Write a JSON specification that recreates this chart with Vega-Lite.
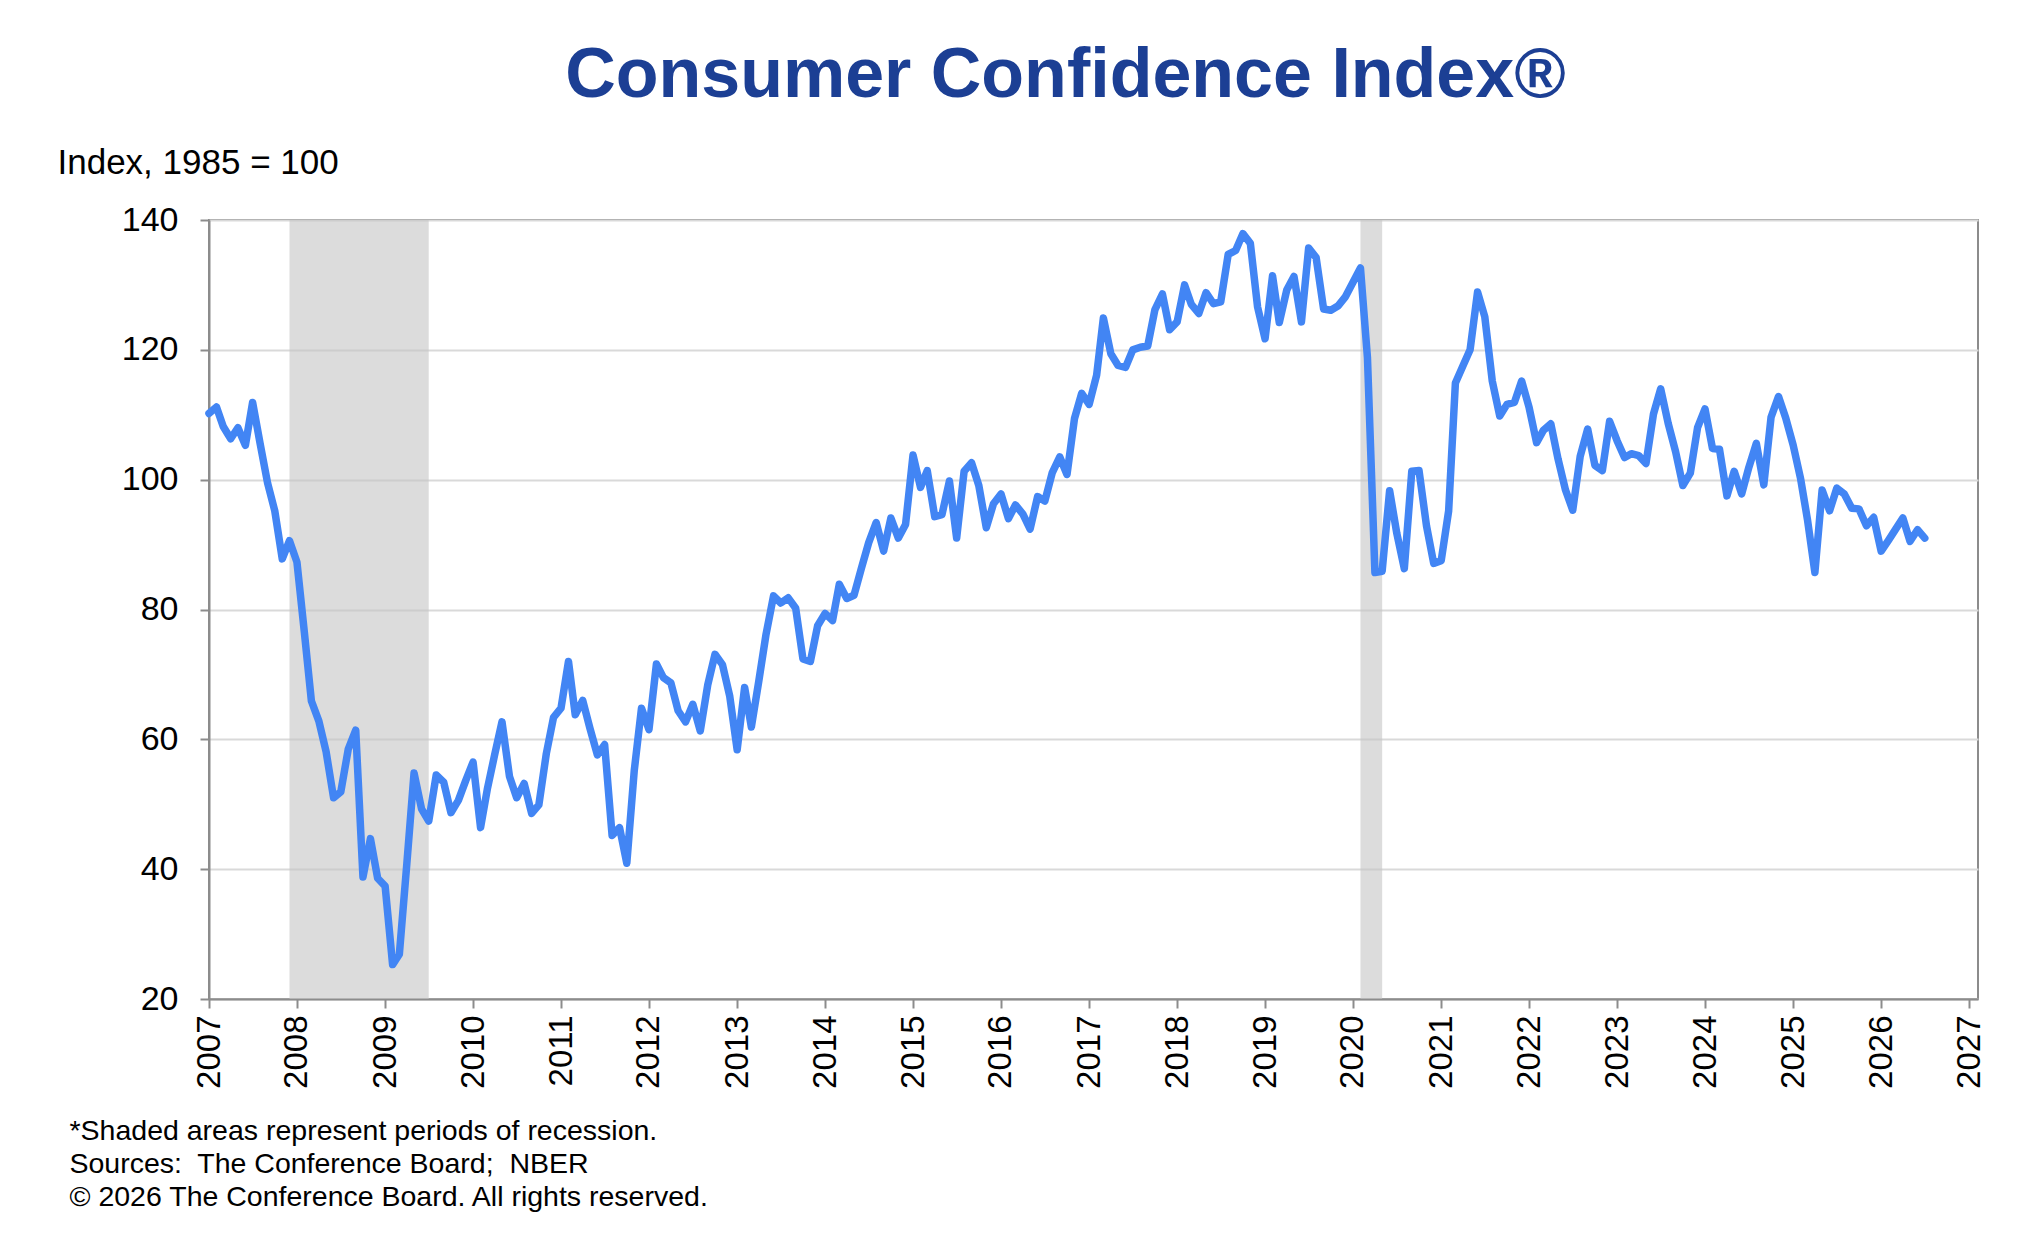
{
  "$schema": "https://vega.github.io/schema/vega-lite/v6.json",
  "width": 1769,
  "height": 779,
  "autosize": {"type": "none"},
  "padding": {"left": 209, "top": 220, "right": 42, "bottom": 253},
  "background": "white",
  "config": {"view": {"stroke": "#8c8c8c", "strokeWidth": 2}, "font": "Liberation Sans"},
  "title": {"text": "Consumer Confidence Index®", "font": "Liberation Sans", "fontSize": 70, "fontWeight": "bold", "color": "#1c3f94", "anchor": "middle", "frame": "group", "offset": 33, "dx": -28},
  "datasets": {
    "recessions": [
      {"date": "2007-12-01", "end": "2009-07-01"},
      {"date": "2020-02-01", "end": "2020-05-01"}
    ],
    "cci": [
      {"date":"2007-01-01","value":110.2},{"date":"2007-02-01","value":111.2},{"date":"2007-03-01","value":108.2},{"date":"2007-04-01","value":106.3},{"date":"2007-05-01","value":108.0},{"date":"2007-06-01","value":105.3},{"date":"2007-07-01","value":111.9},{"date":"2007-08-01","value":105.6},{"date":"2007-09-01","value":99.5},{"date":"2007-10-01","value":95.2},{"date":"2007-11-01","value":87.8},{"date":"2007-12-01","value":90.6},
      {"date":"2008-01-01","value":87.3},{"date":"2008-02-01","value":76.4},{"date":"2008-03-01","value":65.9},{"date":"2008-04-01","value":62.8},{"date":"2008-05-01","value":58.1},{"date":"2008-06-01","value":51.0},{"date":"2008-07-01","value":51.9},{"date":"2008-08-01","value":58.5},{"date":"2008-09-01","value":61.4},{"date":"2008-10-01","value":38.8},{"date":"2008-11-01","value":44.7},{"date":"2008-12-01","value":38.6},
      {"date":"2009-01-01","value":37.4},{"date":"2009-02-01","value":25.3},{"date":"2009-03-01","value":26.9},{"date":"2009-04-01","value":40.8},{"date":"2009-05-01","value":54.8},{"date":"2009-06-01","value":49.3},{"date":"2009-07-01","value":47.4},{"date":"2009-08-01","value":54.5},{"date":"2009-09-01","value":53.4},{"date":"2009-10-01","value":48.7},{"date":"2009-11-01","value":50.6},{"date":"2009-12-01","value":53.6},
      {"date":"2010-01-01","value":56.5},{"date":"2010-02-01","value":46.4},{"date":"2010-03-01","value":52.3},{"date":"2010-04-01","value":57.7},{"date":"2010-05-01","value":62.7},{"date":"2010-06-01","value":54.3},{"date":"2010-07-01","value":51.0},{"date":"2010-08-01","value":53.2},{"date":"2010-09-01","value":48.6},{"date":"2010-10-01","value":49.9},{"date":"2010-11-01","value":57.8},{"date":"2010-12-01","value":63.4},
      {"date":"2011-01-01","value":64.8},{"date":"2011-02-01","value":72.0},{"date":"2011-03-01","value":63.8},{"date":"2011-04-01","value":66.0},{"date":"2011-05-01","value":61.7},{"date":"2011-06-01","value":57.6},{"date":"2011-07-01","value":59.2},{"date":"2011-08-01","value":45.2},{"date":"2011-09-01","value":46.4},{"date":"2011-10-01","value":40.9},{"date":"2011-11-01","value":55.2},{"date":"2011-12-01","value":64.8},
      {"date":"2012-01-01","value":61.5},{"date":"2012-02-01","value":71.6},{"date":"2012-03-01","value":69.5},{"date":"2012-04-01","value":68.7},{"date":"2012-05-01","value":64.4},{"date":"2012-06-01","value":62.7},{"date":"2012-07-01","value":65.4},{"date":"2012-08-01","value":61.3},{"date":"2012-09-01","value":68.4},{"date":"2012-10-01","value":73.1},{"date":"2012-11-01","value":71.5},{"date":"2012-12-01","value":66.7},
      {"date":"2013-01-01","value":58.4},{"date":"2013-02-01","value":68.0},{"date":"2013-03-01","value":61.9},{"date":"2013-04-01","value":69.0},{"date":"2013-05-01","value":76.2},{"date":"2013-06-01","value":82.1},{"date":"2013-07-01","value":81.0},{"date":"2013-08-01","value":81.8},{"date":"2013-09-01","value":80.2},{"date":"2013-10-01","value":72.4},{"date":"2013-11-01","value":72.0},{"date":"2013-12-01","value":77.5},
      {"date":"2014-01-01","value":79.4},{"date":"2014-02-01","value":78.3},{"date":"2014-03-01","value":83.9},{"date":"2014-04-01","value":81.7},{"date":"2014-05-01","value":82.2},{"date":"2014-06-01","value":86.4},{"date":"2014-07-01","value":90.3},{"date":"2014-08-01","value":93.4},{"date":"2014-09-01","value":89.0},{"date":"2014-10-01","value":94.1},{"date":"2014-11-01","value":91.0},{"date":"2014-12-01","value":93.1},
      {"date":"2015-01-01","value":103.8},{"date":"2015-02-01","value":98.8},{"date":"2015-03-01","value":101.4},{"date":"2015-04-01","value":94.3},{"date":"2015-05-01","value":94.6},{"date":"2015-06-01","value":99.8},{"date":"2015-07-01","value":91.0},{"date":"2015-08-01","value":101.3},{"date":"2015-09-01","value":102.6},{"date":"2015-10-01","value":99.1},{"date":"2015-11-01","value":92.6},{"date":"2015-12-01","value":96.3},
      {"date":"2016-01-01","value":97.8},{"date":"2016-02-01","value":94.0},{"date":"2016-03-01","value":96.1},{"date":"2016-04-01","value":94.7},{"date":"2016-05-01","value":92.4},{"date":"2016-06-01","value":97.4},{"date":"2016-07-01","value":96.7},{"date":"2016-08-01","value":101.1},{"date":"2016-09-01","value":103.5},{"date":"2016-10-01","value":100.8},{"date":"2016-11-01","value":109.4},{"date":"2016-12-01","value":113.3},
      {"date":"2017-01-01","value":111.6},{"date":"2017-02-01","value":116.1},{"date":"2017-03-01","value":124.9},{"date":"2017-04-01","value":119.4},{"date":"2017-05-01","value":117.6},{"date":"2017-06-01","value":117.3},{"date":"2017-07-01","value":120.0},{"date":"2017-08-01","value":120.4},{"date":"2017-09-01","value":120.6},{"date":"2017-10-01","value":126.2},{"date":"2017-11-01","value":128.6},{"date":"2017-12-01","value":123.1},
      {"date":"2018-01-01","value":124.3},{"date":"2018-02-01","value":130.0},{"date":"2018-03-01","value":127.0},{"date":"2018-04-01","value":125.6},{"date":"2018-05-01","value":128.8},{"date":"2018-06-01","value":127.1},{"date":"2018-07-01","value":127.4},{"date":"2018-08-01","value":134.7},{"date":"2018-09-01","value":135.3},{"date":"2018-10-01","value":137.9},{"date":"2018-11-01","value":136.4},{"date":"2018-12-01","value":126.6},
      {"date":"2019-01-01","value":121.7},{"date":"2019-02-01","value":131.4},{"date":"2019-03-01","value":124.2},{"date":"2019-04-01","value":129.2},{"date":"2019-05-01","value":131.3},{"date":"2019-06-01","value":124.3},{"date":"2019-07-01","value":135.7},{"date":"2019-08-01","value":134.2},{"date":"2019-09-01","value":126.3},{"date":"2019-10-01","value":126.1},{"date":"2019-11-01","value":126.8},{"date":"2019-12-01","value":128.2},
      {"date":"2020-01-01","value":130.4},{"date":"2020-02-01","value":132.6},{"date":"2020-03-01","value":118.8},{"date":"2020-04-01","value":85.7},{"date":"2020-05-01","value":85.9},{"date":"2020-06-01","value":98.3},{"date":"2020-07-01","value":91.7},{"date":"2020-08-01","value":86.3},{"date":"2020-09-01","value":101.3},{"date":"2020-10-01","value":101.4},{"date":"2020-11-01","value":92.9},{"date":"2020-12-01","value":87.1},
      {"date":"2021-01-01","value":87.5},{"date":"2021-02-01","value":95.2},{"date":"2021-03-01","value":114.9},{"date":"2021-04-01","value":117.5},{"date":"2021-05-01","value":120.0},{"date":"2021-06-01","value":128.9},{"date":"2021-07-01","value":125.1},{"date":"2021-08-01","value":115.2},{"date":"2021-09-01","value":109.8},{"date":"2021-10-01","value":111.6},{"date":"2021-11-01","value":111.9},{"date":"2021-12-01","value":115.2},
      {"date":"2022-01-01","value":111.1},{"date":"2022-02-01","value":105.7},{"date":"2022-03-01","value":107.6},{"date":"2022-04-01","value":108.6},{"date":"2022-05-01","value":103.2},{"date":"2022-06-01","value":98.4},{"date":"2022-07-01","value":95.3},{"date":"2022-08-01","value":103.6},{"date":"2022-09-01","value":107.8},{"date":"2022-10-01","value":102.2},{"date":"2022-11-01","value":101.4},{"date":"2022-12-01","value":109.0},
      {"date":"2023-01-01","value":106.0},{"date":"2023-02-01","value":103.4},{"date":"2023-03-01","value":104.0},{"date":"2023-04-01","value":103.7},{"date":"2023-05-01","value":102.5},{"date":"2023-06-01","value":110.1},{"date":"2023-07-01","value":114.0},{"date":"2023-08-01","value":108.7},{"date":"2023-09-01","value":104.3},{"date":"2023-10-01","value":99.1},{"date":"2023-11-01","value":101.0},{"date":"2023-12-01","value":108.0},
      {"date":"2024-01-01","value":110.9},{"date":"2024-02-01","value":104.8},{"date":"2024-03-01","value":104.7},{"date":"2024-04-01","value":97.5},{"date":"2024-05-01","value":101.3},{"date":"2024-06-01","value":97.8},{"date":"2024-07-01","value":101.9},{"date":"2024-08-01","value":105.6},{"date":"2024-09-01","value":99.2},{"date":"2024-10-01","value":109.6},{"date":"2024-11-01","value":112.8},{"date":"2024-12-01","value":109.5},
      {"date":"2025-01-01","value":105.3},{"date":"2025-02-01","value":100.1},{"date":"2025-03-01","value":93.9},{"date":"2025-04-01","value":85.7},{"date":"2025-05-01","value":98.4},{"date":"2025-06-01","value":95.2},{"date":"2025-07-01","value":98.7},{"date":"2025-08-01","value":97.8},{"date":"2025-09-01","value":95.6},{"date":"2025-10-01","value":95.5},{"date":"2025-11-01","value":92.9},{"date":"2025-12-01","value":94.2},
      {"date":"2026-01-01","value":89.0},{"date":"2026-02-01","value":90.7},{"date":"2026-03-01","value":92.3},{"date":"2026-04-01","value":94.1},{"date":"2026-05-01","value":90.5},{"date":"2026-06-01","value":92.3},{"date":"2026-07-01","value":91.0}
    ]
  },
  "layer": [
    {
      "data": {"name": "recessions"},
      "mark": {"type": "rect", "color": "#c4c4c4", "opacity": 0.6},
      "encoding": {
        "x": {"field": "date", "type": "temporal", "scale": {"type": "utc", "domain": [1167609600000, 1801958400000]}},
        "x2": {"field": "end"}
      }
    },
    {
      "data": {"name": "cci"},
      "mark": {"type": "line", "color": "#4285f4", "strokeWidth": 7.5, "strokeJoin": "round", "strokeCap": "round"},
      "encoding": {
        "x": {
          "field": "date", "type": "temporal",
          "scale": {"type": "utc", "domain": [1167609600000, 1801958400000]},
          "axis": {
            "values": [1167609600000,1199145600000,1230768000000,1262304000000,1293840000000,1325376000000,1356998400000,1388534400000,1420070400000,1451606400000,1483228800000,1514764800000,1546300800000,1577836800000,1609459200000,1640995200000,1672531200000,1704067200000,1735689600000,1767225600000,1798761600000],
            "format": "%Y",
            "labelAngle": 270, "labelAlign": "right", "labelBaseline": "middle",
            "labelFont": "Liberation Sans", "labelFontSize": 33, "labelColor": "#000000", "labelPadding": 7,
            "labelOverlap": false, "labelFlush": false,
            "grid": false,
            "domainColor": "#8c8c8c", "domainWidth": 2,
            "tickColor": "#8c8c8c", "tickWidth": 2, "tickSize": 9,
            "title": ["*Shaded areas represent periods of recession.", "Sources:\u00a0 The Conference Board;\u00a0 NBER", "© 2026 The Conference Board. All rights reserved."],
            "titleFont": "Liberation Sans", "titleFontSize": 28.5, "titleFontWeight": "normal", "titleColor": "#000000",
            "titleAnchor": "start", "titleAlign": "left", "titleBaseline": "alphabetic", "titleAngle": 0,
            "titleX": -140, "titleY": 140, "titleLineHeight": 33
          }
        },
        "y": {
          "field": "value", "type": "quantitative",
          "scale": {"domain": [20, 140], "nice": false, "zero": false},
          "axis": {
            "values": [20, 40, 60, 80, 100, 120, 140],
            "labelFont": "Liberation Sans", "labelFontSize": 34, "labelColor": "#000000", "labelPadding": 22,
            "grid": true, "gridColor": "#d9d9d9", "gridWidth": 2,
            "domainColor": "#8c8c8c", "domainWidth": 2,
            "tickColor": "#8c8c8c", "tickWidth": 2, "tickSize": 9,
            "title": "Index, 1985 = 100",
            "titleFont": "Liberation Sans", "titleFontSize": 35, "titleFontWeight": "normal", "titleColor": "#000000",
            "titleAngle": 0, "titleAlign": "left", "titleBaseline": "alphabetic", "titleAnchor": "start",
            "titleX": -152, "titleY": -47
          }
        }
      }
    }
  ]
}
